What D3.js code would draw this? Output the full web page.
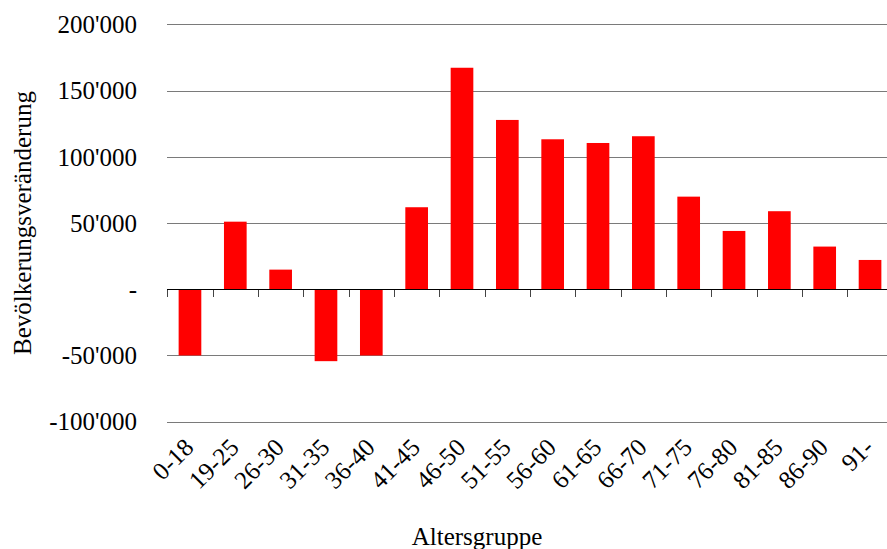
<!DOCTYPE html>
<html>
<head>
<meta charset="utf-8">
<script src="https://cdn.jsdelivr.net/npm/d3@7"></script>
<style>
  body { margin: 0; background: #fff; }
  svg { display: block; }
  text { font-family: "Liberation Serif", "Times New Roman", serif; fill: #000; }
</style>
</head>
<body>
<svg id="chart" width="887" height="549"></svg>
<script>
const categories = ["0-18","19-25","26-30","31-35","36-40","41-45","46-50","51-55","56-60","61-65","66-70","71-75","76-80","81-85","86-90","91-"];
const values = [-50000, 51000, 14800, -54300, -50000, 61900, 167200, 127800, 113200, 110400, 115500, 69900, 44000, 58900, 32200, 22100];
const yTicks = [-100000, -50000, 0, 50000, 100000, 150000, 200000];
const yTitle = "Bevölkerungsveränderung";
const xTitle = "Altersgruppe";

const svg = d3.select("#chart");
const pLeft = 167.3, pRight = 892.7, pTop = 24.3, pBottom = 421.7;

const x = d3.scaleBand().domain(categories).range([pLeft, pRight]).paddingInner(0.5).paddingOuter(0.25);
const y = d3.scaleLinear().domain([-100000, 200000]).range([pBottom, pTop]);

const loc = d3.formatLocale({decimal: ".", thousands: "'", grouping: [3], currency: ["", ""], minus: "-"});
const fmt = loc.format(",");
const tickFmt = v => v === 0 ? "-" : fmt(v);

// gridlines
svg.append("g").selectAll("line").data(yTicks.filter(v => v !== 0)).join("line")
  .attr("x1", pLeft).attr("x2", pRight)
  .attr("y1", d => Math.round(y(d)) + 0.5).attr("y2", d => Math.round(y(d)) + 0.5)
  .attr("stroke", "#7a7a7a").attr("stroke-width", 1).attr("shape-rendering", "crispEdges");

// y tick labels
svg.append("g").selectAll("text").data(yTicks).join("text")
  .attr("x", 137).attr("y", d => y(d)).attr("dy", "0.35em")
  .attr("text-anchor", "end").attr("font-size", 25)
  .text(tickFmt);

// bars
svg.append("g").selectAll("rect").data(values).join("rect")
  .attr("x", (d, i) => x(categories[i]))
  .attr("width", x.bandwidth())
  .attr("y", d => y(Math.max(0, d)))
  .attr("height", d => Math.abs(y(d) - y(0)))
  .attr("fill", "#ff0000");

// zero axis line
const y0 = Math.round(y(0)) + 0.5;
svg.append("line").attr("x1", pLeft).attr("x2", pRight).attr("y1", y0).attr("y2", y0)
  .attr("stroke", "#000").attr("stroke-width", 1).attr("shape-rendering", "crispEdges");

// category boundary ticks
const bounds = categories.map(c => x(c) - x.step() * x.paddingInner() / 2);
bounds.push(pRight);
svg.append("g").selectAll("line").data(bounds).join("line")
  .attr("x1", d => Math.round(d) + 0.5).attr("x2", d => Math.round(d) + 0.5)
  .attr("y1", y0).attr("y2", y0 + 7)
  .attr("stroke", "#444").attr("stroke-width", 1).attr("shape-rendering", "crispEdges");

// x tick labels
svg.append("g").selectAll("text").data(categories).join("text")
  .attr("transform", c => `translate(${x(c) + x.bandwidth() / 2 + 5},${449}) rotate(-45)`)
  .attr("text-anchor", "end").attr("font-size", 25)
  .text(c => c);

// axis titles
svg.append("text").attr("x", 477).attr("y", 545).attr("text-anchor", "middle")
  .attr("font-size", 25).text(xTitle);
svg.append("text").attr("transform", `translate(31,${(pTop + pBottom) / 2}) rotate(-90)`)
  .attr("text-anchor", "middle").attr("font-size", 25).text(yTitle);
</script>
</body>
</html>
